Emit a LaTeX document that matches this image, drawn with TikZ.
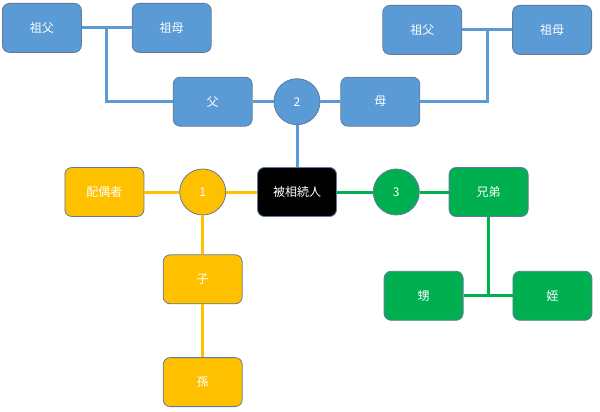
\documentclass[tikz,border=0pt]{standalone}
\usepackage{fontspec}
\newfontfamily\jp{Noto Sans CJK JP}
\usetikzlibrary{positioning, calc}
\definecolor{famblue}{HTML}{5B9BD5}
\definecolor{famyellow}{HTML}{FFC000}
\definecolor{famgreen}{HTML}{00B050}
\definecolor{edge}{HTML}{62799A}

\begin{document}
\begin{tikzpicture}[x=1pt, y=1pt, node distance=20pt,
    every node/.style={font=\jp\fontsize{12}{14}\selectfont, text=white},
    box/.style={draw=edge, line width=0.8pt, rounded corners=7pt, minimum width=79pt, minimum height=49pt, inner sep=0pt},
    hub/.style={draw=edge, line width=0.8pt, circle, minimum size=46pt, inner sep=0pt},
    bline/.style={famblue, line width=3pt},
    yline/.style={famyellow, line width=3pt},
    gline/.style={famgreen, line width=3pt}]
    \useasboundingbox (0,0) rectangle (600,-412);

    \node (heir) [box, fill=black] at (297,-192) {被相続人};

    % parents side
    \node (c2) [hub, fill=famblue, above=42pt of heir] {2};
    \node (father) [box, fill=famblue, left=21pt of c2] {父};
    \node (mother) [box, fill=famblue, right=20pt of c2] {母};
    \node (gmL) [box, fill=famblue, above=24pt of father, xshift=-41pt] {祖母};
    \node (gfL) [box, fill=famblue, left=50pt of gmL] {祖父};
    \node (gfR) [box, fill=famblue, above=22pt of mother, xshift=42pt] {祖父};
    \node (gmR) [box, fill=famblue, right=50pt of gfR] {祖母};
    \coordinate (jL) at ($(gfL.east)!.5!(gmL.west)$);
    \coordinate (jR) at ($(gfR.east)!.5!(gmR.west)$);

    % spouse and descendants
    \node (c1) [hub, fill=famyellow, left=31pt of heir] {1};
    \node (spouse) [box, fill=famyellow, left=35pt of c1] {配偶者};
    \node (child) [box, fill=famyellow, below=39pt of c1] {子};
    \node (grandchild) [box, fill=famyellow, below=53pt of child] {孫};

    % siblings
    \node (c3) [hub, fill=famgreen, right=36pt of heir] {3};
    \node (sib) [box, fill=famgreen, right=29pt of c3] {兄弟};
    \node (nephew) [box, fill=famgreen, below=54pt of sib, xshift=-65pt] {甥};
    \node (niece) [box, fill=famgreen, right=49pt of nephew] {姪};

    \draw[bline] (gfL) -- (gmL);
    \draw[bline] (jL) |- (father);
    \draw[bline] (gfR) -- (gmR);
    \draw[bline] (mother) -| (jR);
    \draw[bline] (father) -- (c2) -- (mother);
    \draw[bline] (c2) -- (heir);

    \draw[yline] (spouse) -- (c1) -- (heir);
    \draw[yline] (c1) -- (child) -- (grandchild);

    \draw[gline] (heir) -- (c3) -- (sib);
    \draw[gline] (nephew) -- (niece);
    \draw[gline] (sib) -- (sib |- nephew);
\end{tikzpicture}
\end{document}
